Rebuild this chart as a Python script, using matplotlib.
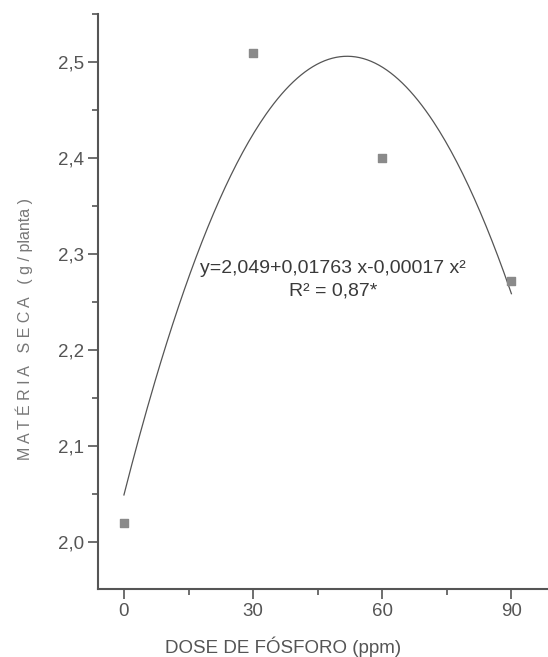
import numpy as np
import matplotlib.pyplot as plt
from matplotlib.ticker import FuncFormatter, MultipleLocator

plt.rcParams['font.family'] = ['Liberation Sans', 'DejaVu Sans']

# dados
dose = [0, 30, 60, 90]
materia_seca = [2.02, 2.51, 2.40, 2.272]

# coeficientes da regressão indicada no gráfico
coef = [2.049, 0.01763, -0.00017]
eq_linha1 = "y=2,049+0,01763 x-0,00017 x²"
eq_linha2 = "R² = 0,87*"

x_ticks = [0, 30, 60, 90]
y_ticks = [2.0, 2.1, 2.2, 2.3, 2.4, 2.5]

cor_eixo = '#555555'
cor_texto = '#555555'

fig = plt.figure(figsize=(5.48, 6.57), dpi=100)
ax = fig.add_axes([0.179, 0.1035, 0.821, 0.875])

xs = np.linspace(dose[0], dose[-1], 200)
ys = coef[0] + coef[1] * xs + coef[2] * xs**2
ax.plot(xs, ys, color='#555555', linewidth=0.9)

ax.scatter(dose, materia_seca, marker='s', s=34, color='#8a8a8a', zorder=3)

ax.set_xlim(-6, 98.5)
ax.set_ylim(1.951, 2.55)

ax.set_xticks(x_ticks)
ax.set_yticks(y_ticks)
ax.xaxis.set_minor_locator(MultipleLocator(15))
ax.yaxis.set_minor_locator(MultipleLocator(0.05))
ax.yaxis.set_major_formatter(FuncFormatter(lambda v, p: f"{v:.1f}".replace('.', ',')))

for s in ['top', 'right']:
    ax.spines[s].set_visible(False)
for s in ['left', 'bottom']:
    ax.spines[s].set_color(cor_eixo)
    ax.spines[s].set_linewidth(1.5)

ax.tick_params(axis='both', which='major', direction='out', length=7, width=1.2,
               color=cor_eixo, labelcolor=cor_texto, labelsize=13.5, pad=3)
ax.tick_params(axis='both', which='minor', direction='out', length=4, width=1.2,
               color=cor_eixo)

ax.text(48.5, 2.285, eq_linha1, ha='center', va='center', fontsize=14,
        color='#3a3a3a')
ax.text(48.5, 2.262, eq_linha2, ha='center', va='center', fontsize=14,
        color='#3a3a3a')

ax.set_xlabel("DOSE DE FÓSFORO (ppm)", fontsize=13.5, color=cor_texto,
              labelpad=12, x=0.411)
fig.text(0.045, 0.5, "M A T É R I A   S E C A   ( g / planta )", rotation=90,
         ha='center', va='center', fontsize=11.5, color='#777777')

fig.savefig("out.png", dpi=100)
